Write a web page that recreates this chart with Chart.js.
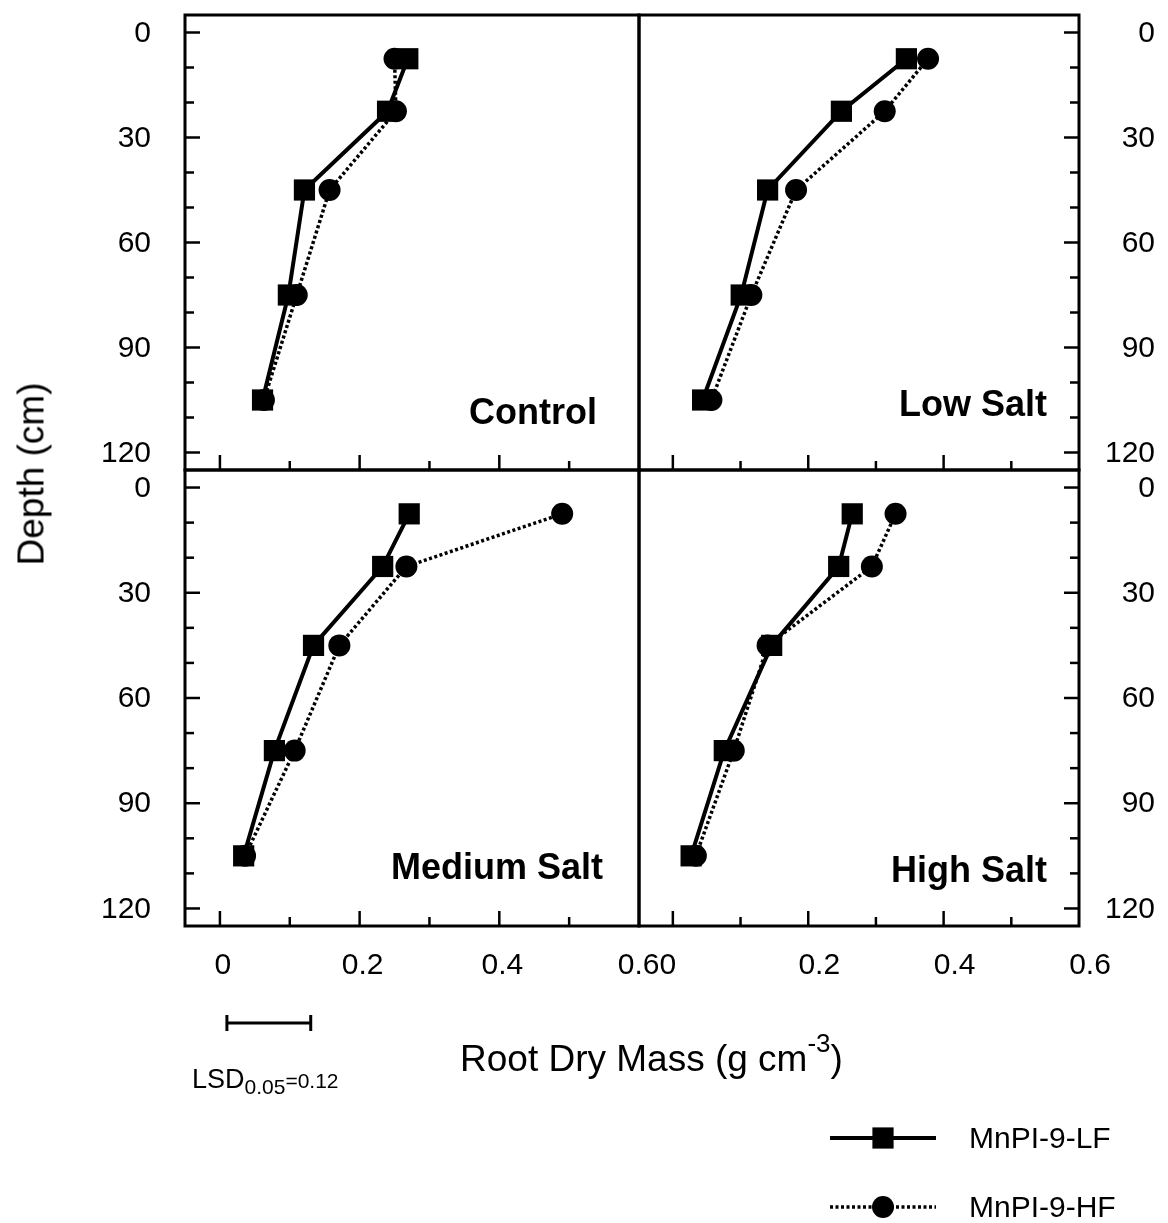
<!DOCTYPE html>
<html>
<head>
<meta charset="utf-8">
<title>Root Dry Mass by Depth</title>
<script src="https://cdn.jsdelivr.net/npm/chart.js@4.4.1/dist/chart.umd.min.js"></script>
<style>
  html, body { margin: 0; padding: 0; background: #fff; }
  #fig { position: relative; width: 1168px; height: 1223px; overflow: hidden;
         font-family: "Liberation Sans", Arial, Helvetica, sans-serif; color: #000; }
  #fig canvas { position: absolute; left: 0; top: 0; }
  .t { position: absolute; white-space: nowrap; line-height: 1; }
  .panel { font-weight: bold; font-size: 36px; }
</style>
</head>
<body>
<div id="fig">
  <canvas id="pControl" width="1168" height="1223"></canvas>
  <canvas id="pLow" width="1168" height="1223"></canvas>
  <canvas id="pMedium" width="1168" height="1223"></canvas>
  <canvas id="pHigh" width="1168" height="1223"></canvas>

  <div class="t panel" style="right:571px; top:394px;">Control</div>
  <div class="t panel" style="right:121px; top:386px;">Low Salt</div>
  <div class="t panel" style="right:565px; top:849px;">Medium Salt</div>
  <div class="t panel" style="right:121px; top:852px;">High Salt</div>

  <div class="t" style="left:31px; top:474px; font-size:37px; transform:translate(-50%,-50%) rotate(-90deg);">Depth (cm)</div>
  <div class="t" style="left:460px; top:1040px; font-size:37px;">Root Dry Mass (g cm<span style="font-size:26px; position:relative; top:-19px;">-3</span>)</div>
  <div class="t" style="left:192px; top:1066px; font-size:27px;">LSD<span style="font-size:21px; position:relative; top:6px;">0.05</span><span style="font-size:21px;">=0.12</span></div>

  <div class="t" style="left:969px; top:1123px; font-size:30px;">MnPI-9-LF</div>
  <div class="t" style="left:969px; top:1192px; font-size:30px;">MnPI-9-HF</div>
</div>

<script>
// Sampling depths: midpoints of the soil layers (cm)
const depths = [7.5, 22.5, 45, 75, 105];

// Root dry mass (g cm-3) for the two lines under each salt treatment
const controlLF = [0.269, 0.240, 0.121, 0.098, 0.061];
const controlHF = [0.250, 0.252, 0.157, 0.110, 0.063];
const lowSaltLF = [0.345, 0.249, 0.140, 0.101, 0.044];
const lowSaltHF = [0.377, 0.313, 0.182, 0.116, 0.057];
const mediumSaltLF = [0.271, 0.233, 0.134, 0.078, 0.034];
const mediumSaltHF = [0.490, 0.267, 0.171, 0.107, 0.036];
const highSaltLF = [0.265, 0.245, 0.146, 0.076, 0.027];
const highSaltHF = [0.329, 0.294, 0.140, 0.090, 0.034];

const seriesNames = ['MnPI-9-LF', 'MnPI-9-HF'];

// Axis ticks
const depthTicks = [0, 10, 20, 30, 40, 50, 60, 70, 80, 90, 100, 110, 120];
const depthLabels = [0, 30, 60, 90, 120];
const massTicks = [0, 0.1, 0.2, 0.3, 0.4, 0.5];
const massLabelsLeft = [[0, '0'], [0.2, '0.2'], [0.4, '0.4'], [0.6, '0.60']];
const massLabelsRight = [[0.2, '0.2'], [0.4, '0.4'], [0.6, '0.6']];

// Least significant difference bar
const lsdStart = 0.01;
const lsdValue = 0.12;

const W = 1168, H = 1223;
const FONT = '"Liberation Sans", Arial, Helvetica, sans-serif';

// Plot-area edges of the two columns and two rows
const colX = [[185, 639], [639, 1079]];
const rowY = [[14, 470], [470, 926]];

function seg(ctx, x1, y1, x2, y2) {
  ctx.beginPath(); ctx.moveTo(x1, y1); ctx.lineTo(x2, y2); ctx.stroke();
}

// Frame, inward ticks, tick labels, LSD bar and key
const framePlugin = {
  id: 'frame',
  afterDraw(chart, args, o) {
    const { ctx, chartArea: a } = chart;
    const x = chart.scales.x, y = chart.scales.y;
    ctx.save();
    ctx.strokeStyle = '#000';
    ctx.fillStyle = '#000';
    ctx.lineCap = 'butt';

    ctx.lineWidth = 3;
    ctx.strokeRect(a.left, a.top, a.width, a.height);

    ctx.lineWidth = 2.5;
    massTicks.forEach((v, i) => {
      const px = x.getPixelForValue(v);
      seg(ctx, px, a.bottom, px, a.bottom - (i % 2 === 0 ? 15 : 9));
    });
    depthTicks.forEach(v => {
      const py = y.getPixelForValue(v);
      const len = v % 30 === 0 ? 15 : 9;
      if (o.side === 'left') seg(ctx, a.left, py, a.left + len, py);
      else seg(ctx, a.right, py, a.right - len, py);
    });

    ctx.font = '30px ' + FONT;
    ctx.textBaseline = 'middle';
    ctx.textAlign = 'right';
    depthLabels.forEach(v => {
      const py = y.getPixelForValue(v) + 1;
      const px = o.side === 'left' ? a.left - 34 : a.right + 76;
      ctx.fillText(String(v), px, py);
    });

    if (o.massLabels) {
      ctx.textAlign = 'center';
      o.massLabels.forEach(([v, txt]) => {
        const shift = txt === '0.60' ? 8 : (o.labelShift || 0);
        ctx.fillText(txt, x.getPixelForValue(v) + shift, a.bottom + 40);
      });
    }

    if (o.lsd) {
      const x1 = x.getPixelForValue(lsdStart), x2 = x.getPixelForValue(lsdStart + lsdValue);
      const yb = a.bottom + 97;
      ctx.lineWidth = 3;
      seg(ctx, x1, yb, x2, yb);
      seg(ctx, x1, yb - 8, x1, yb + 8);
      seg(ctx, x2, yb - 8, x2, yb + 8);
    }

    if (o.key) {
      const ds = chart.data.datasets;
      const rows = [1138, 1207];
      ds.forEach((d, i) => {
        const yy = rows[i];
        ctx.lineWidth = d.borderWidth;
        ctx.setLineDash(d.borderDash || []);
        seg(ctx, 830, yy, 936, yy);
        ctx.setLineDash([]);
        ctx.beginPath();
        if (d.pointStyle === 'rect') {
          const s = Math.SQRT1_2 * d.pointRadius;
          ctx.rect(883 - s, yy - s, 2 * s, 2 * s);
        } else {
          ctx.arc(883, yy, d.pointRadius, 0, Math.PI * 2);
        }
        ctx.fill();
      });
    }
    ctx.restore();
  }
};

function makePanel(id, col, row, lf, hf, extra) {
  const [l, r] = colX[col], [t, b] = rowY[row];
  return new Chart(document.getElementById(id), {
    type: 'scatter',
    data: {
      datasets: [
        {
          label: seriesNames[0],
          data: depths.map((d, i) => ({ x: lf[i], y: d })),
          showLine: true, clip: false,
          borderColor: '#000', backgroundColor: '#000', borderWidth: 4,
          pointStyle: 'rect', pointRadius: 15, pointBorderWidth: 0,
          pointBackgroundColor: '#000'
        },
        {
          label: seriesNames[1],
          data: depths.map((d, i) => ({ x: hf[i], y: d })),
          showLine: true, clip: false,
          borderColor: '#000', backgroundColor: '#000', borderWidth: 3.5,
          borderDash: [3, 2.5],
          pointStyle: 'circle', pointRadius: 11, pointBorderWidth: 0,
          pointBackgroundColor: '#000'
        }
      ]
    },
    options: {
      responsive: false, devicePixelRatio: 1, animation: false, events: [],
      layout: { padding: { left: l, top: t, right: W - r, bottom: H - b } },
      scales: {
        x: { type: 'linear', min: -0.05, max: 0.6, display: false },
        y: { type: 'linear', min: -5, max: 125, reverse: true, display: false }
      },
      plugins: {
        legend: { display: false },
        tooltip: { enabled: false },
        frame: Object.assign({ side: col === 0 ? 'left' : 'right' }, extra)
      }
    },
    plugins: [framePlugin]
  });
}

makePanel('pControl', 0, 0, controlLF, controlHF, {});
makePanel('pLow', 1, 0, lowSaltLF, lowSaltHF, {});
makePanel('pMedium', 0, 1, mediumSaltLF, mediumSaltHF, { massLabels: massLabelsLeft, lsd: true, labelShift: 3 });
makePanel('pHigh', 1, 1, highSaltLF, highSaltHF, { massLabels: massLabelsRight, key: true, labelShift: 11 });
</script>
</body>
</html>
